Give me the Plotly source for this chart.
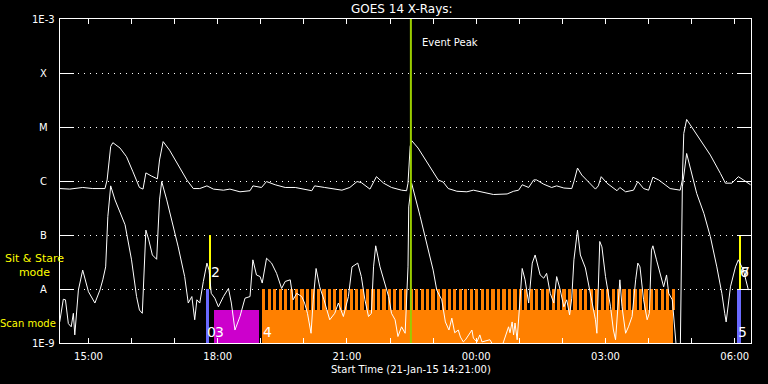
import pandas as pd
import plotly.graph_objects as go

# ---------------- data ----------------
# GOES 14 long channel (1-8 A), log10 flux
long_times = ["14:20","14:34","14:52","15:06","15:23","15:26","15:31","15:34","15:44","15:53",
              "16:02","16:11","16:16","16:20","16:28","16:36","16:39","16:44","16:53","17:05",
              "17:17","17:26","17:35","17:45","17:54","18:08","18:17","18:31","18:45","18:49",
              "19:01","19:08","19:20","19:34","19:48","20:11","20:15","20:29","20:53","21:04",
              "21:14","21:20","21:32","21:41","21:51","22:02","22:16","22:23","22:25","22:28",
              "22:30","22:39","22:51","23:07","23:14","23:21","23:33","23:47","23:56","00:08",
              "00:24","00:43","00:52","00:59","01:04","01:13","01:20","01:24","01:34","01:45",
              "01:52","02:02","02:13","02:16","02:21","02:27","02:36","02:46","02:50","02:54",
              "03:02","03:11","03:16","03:20","03:28","03:39","03:45","03:53","04:00","04:06",
              "04:14","04:23","04:30","04:44","04:47","04:49","04:53","04:58","05:12","05:26",
              "05:40","05:47","05:56","06:05","06:12","06:22"]
long_logflux = [-6.14,-6.15,-6.12,-6.14,-6.14,-5.98,-5.36,-5.29,-5.39,-5.55,
                -5.83,-6.12,-6.15,-5.85,-5.91,-5.96,-5.61,-5.27,-5.43,-5.70,
                -5.98,-6.14,-6.14,-6.09,-6.15,-6.17,-6.15,-6.20,-6.18,-6.09,
                -6.12,-6.01,-6.07,-6.12,-6.12,-6.18,-6.09,-6.12,-6.17,-6.12,
                -6.01,-6.03,-6.15,-5.92,-6.04,-6.12,-6.17,-6.18,-6.04,-5.36,
                -5.25,-5.39,-5.64,-5.98,-6.02,-6.14,-6.19,-6.20,-6.17,-6.21,
                -6.25,-6.24,-6.19,-6.17,-6.07,-6.12,-5.98,-5.98,-6.06,-6.12,
                -6.09,-6.13,-6.14,-6.01,-5.76,-5.89,-6.01,-6.15,-6.09,-5.92,
                -6.04,-6.14,-6.18,-6.12,-6.20,-6.17,-6.01,-6.14,-6.17,-5.93,
                -5.98,-6.07,-6.14,-6.17,-5.98,-5.12,-4.86,-4.96,-5.24,-5.52,
                -5.86,-6.04,-6.04,-5.92,-5.98,-6.07]

# GOES 14 short channel (0.5-4 A), log10 flux
short_times = ["14:20","14:25","14:28","14:32","14:36","14:39","14:41","14:43","14:46","14:52",
               "15:00","15:09","15:16","15:20","15:24","15:27","15:31","15:37","15:44","15:51",
               "16:00","16:07","16:11","16:15","16:20","16:24","16:29","16:35","16:39","16:42",
               "16:49","16:56","17:05","17:14","17:19","17:24","17:28","17:31","17:35","17:40",
               "17:45","17:48","17:51","17:56","18:01","18:08","18:15","18:19","18:24","18:31",
               "18:38","18:45","18:49","18:54","18:59","19:02","19:08","19:15","19:22","19:29",
               "19:34","19:41","19:45","19:50","19:57","20:01","20:05","20:10","20:13","20:17",
               "20:22","20:28","20:36","20:43","20:48","20:55","21:02","21:07","21:15","21:20",
               "21:25","21:30","21:34","21:37","21:40","21:46","21:51","21:58","22:02","22:07",
               "22:11","22:16","22:21","22:25","22:26","22:30","22:42","22:51","23:00","23:05",
               "23:12","23:17","23:20","23:22","23:26","23:30","23:35","23:38","23:42","23:45",
               "23:54","23:56","00:01","00:05","00:08","00:19","00:24","00:36","00:38","00:45",
               "00:47","00:50","00:52","00:54","00:57","01:00","01:04","01:08",
               "01:13","01:18","01:22","01:29","01:34","01:38","01:43","01:48","01:52","01:57",
               "02:02","02:06","02:10","02:13","02:16","02:21","02:25","02:32","02:39","02:46",
               "02:48","02:52","02:55","03:00","03:07","03:11","03:14","03:20","03:23","03:28",
               "03:32","03:37","03:42","03:45","03:48","03:53","03:58","04:01","04:04","04:06",
               "04:11","04:16","04:21","04:25","04:28","04:33","04:37","04:40","04:44","04:47",
               "04:53","04:58","05:07","05:17","05:26","05:35","05:42","05:46","05:48","05:54",
               "06:01","06:05","06:12","06:19"]
short_logflux = [-8.61,-8.19,-8.20,-8.64,-8.70,-8.45,-8.85,-8.45,-8.02,-7.65,
                 -8.05,-8.26,-8.02,-7.83,-7.59,-6.66,-6.09,-6.35,-6.60,-6.81,
                 -7.46,-8.14,-8.39,-8.45,-6.91,-7.09,-7.37,-7.45,-6.35,-6.01,
                 -6.35,-6.72,-7.22,-7.77,-8.26,-8.14,-8.57,-8.20,-8.26,-7.86,
                 -7.52,-7.65,-8.08,-8.17,-8.33,-8.14,-7.99,-8.26,-8.76,-8.51,
                 -8.17,-8.14,-7.46,-7.74,-7.77,-7.89,-7.43,-7.52,-7.71,-7.99,
                 -7.86,-7.83,-8.20,-8.08,-8.14,-8.26,-8.45,-8.82,-8.20,-7.62,
                 -7.96,-8.20,-8.57,-8.45,-8.26,-8.51,-8.14,-7.59,-7.52,-7.77,
                 -8.20,-8.51,-8.45,-7.59,-7.20,-7.59,-7.83,-8.14,-8.45,-8.57,
                 -8.88,-8.70,-8.82,-7.59,-6.48,-6.04,-6.66,-7.15,-7.65,-8.02,
                 -8.20,-8.61,-8.69,-8.76,-8.54,-8.81,-8.76,-8.89,-8.98,-8.94,
                 -8.76,-8.91,-8.98,-8.85,-8.98,-8.94,-9.05,-9.05,-8.98,-8.70,
                 -8.81,-8.61,-8.85,-8.63,-8.94,-8.39,-7.62,-7.83,
                 -8.26,-7.52,-7.37,-7.74,-7.80,-7.71,-8.08,-8.26,-7.77,-8.02,
                 -8.33,-8.20,-8.48,-8.17,-7.46,-6.91,-7.37,-7.61,-8.08,-8.57,
                 -8.82,-7.12,-7.22,-7.77,-8.33,-8.76,-8.94,-7.83,-8.33,-8.82,
                 -8.70,-8.51,-7.83,-7.52,-7.59,-8.20,-8.57,-8.45,-7.28,-7.20,
                 -7.46,-7.71,-7.96,-7.74,-8.08,-8.20,-8.76,-9.30,-9.30,-6.11,
                 -5.49,-5.74,-6.23,-6.60,-7.03,-7.59,-8.08,-8.45,-8.61,-7.96,
                 -7.59,-7.46,-7.65,-8.02]

# IRIS observation blocks
block_start  = ["17:43","17:48","17:55","19:02","06:03","06:06"]
block_end    = ["17:48","17:51","18:57","04:34","06:08","06:09"]
block_bottom = [-9.0, -8.0, -9.0, -9.0, -9.0, -8.0]
block_top    = [-8.0, -7.0, -8.39, -8.39, -8.0, -7.0]
block_kind   = ["scan", "sit", "raster", "raster2", "scan", "sit"]

# repeated raster (orange) cadence
raster_start = "19:02"
raster_end = "04:34"
raster_cadence_min = 7.6
raster_on_min = 4.5
raster_bottom, raster_top = -8.39, -8.0

# block labels
label_text = ["0", "2", "3", "4", "5", "6", "7"]
label_time = ["17:44", "17:49", "17:55", "19:02", "06:03", "06:06", "06:07"]
label_logflux = [-8.80, -7.69, -8.80, -8.80, -8.80, -7.69, -7.69]

event_peak = "22:29"

ytick_vals = [-9, -8, -7, -6, -5, -4, -3]
ytick_text = ["1E-9", "A", "B", "C", "M", "X", "1E-3"]

assert len(long_times) == len(long_logflux)
assert len(short_times) == len(short_logflux)

# ---------------- helpers ----------------
def ts(hm):
    h = int(hm[:2])
    day = "2015-01-21" if h >= 12 else "2015-01-22"
    return pd.Timestamp(f"{day} {hm}:00")

kind_color = {"scan": "#6a6aff", "sit": "#ffff00", "raster": "#cc00cc", "raster2": "#ff8000"}
FONT = "DejaVu Sans"

fig = go.Figure()

# observation blocks
for s, e, b, t, k in zip(block_start, block_end, block_bottom, block_top, block_kind):
    s_ts, e_ts = ts(s), ts(e)
    fig.add_trace(go.Bar(x=[s_ts], y=[t - b], base=[b], offset=0,
                         width=[(e_ts - s_ts).total_seconds() * 1000],
                         marker=dict(color=kind_color[k], line=dict(width=0)),
                         hoverinfo="skip", showlegend=False))

# raster repeats (upper teeth of orange block)
rs, re_ = ts(raster_start), ts(raster_end)
tooth_x = []
cur = rs
while cur < re_:
    tooth_x.append(cur)
    cur = cur + pd.Timedelta(minutes=raster_cadence_min)
fig.add_trace(go.Bar(x=tooth_x, y=[raster_top - raster_bottom] * len(tooth_x),
                     base=[raster_bottom] * len(tooth_x), offset=0,
                     width=[raster_on_min * 60000] * len(tooth_x),
                     marker=dict(color="#ff8000", line=dict(width=0)),
                     hoverinfo="skip", showlegend=False))

# GOES curves
fig.add_trace(go.Scatter(x=[ts(t) for t in long_times], y=long_logflux, mode="lines",
                         line=dict(color="white", width=1), hoverinfo="skip", showlegend=False))
fig.add_trace(go.Scatter(x=[ts(t) for t in short_times], y=short_logflux, mode="lines",
                         line=dict(color="white", width=1), hoverinfo="skip", showlegend=False))

# event peak line
fig.add_trace(go.Scatter(x=[ts(event_peak), ts(event_peak)], y=[-9, -3], mode="lines",
                         line=dict(color="#9acd00", width=2), hoverinfo="skip", showlegend=False))

annotations = []
# y tick labels (centered like the reference)
for v, txt in zip(ytick_vals, ytick_text):
    annotations.append(dict(text=txt, xref="paper", yref="y", x=-0.0232, y=v,
                            xanchor="center", yanchor="middle", showarrow=False,
                            font=dict(family=FONT, size=10, color="white")))
annotations.append(dict(text="Sit & Stare<br>mode", xref="paper", yref="y", x=-0.0376, y=-7.556,
                        xanchor="center", yanchor="middle", showarrow=False, align="center",
                        font=dict(family=FONT, size=11, color="#ffff00")))
annotations.append(dict(text="Scan mode", xref="paper", yref="y", x=-0.0459, y=-8.63,
                        xanchor="center", yanchor="middle", showarrow=False,
                        font=dict(family=FONT, size=10, color="#ffff00")))
annotations.append(dict(text="GOES 14 X-Rays:", xref="paper", yref="paper", x=0.4945, y=1.031,
                        xanchor="center", yanchor="middle", showarrow=False,
                        font=dict(family=FONT, size=12, color="white")))
annotations.append(dict(text="Start Time (21-Jan-15 14:21:00)", xref="paper", yref="paper",
                        x=0.508, y=-0.083, xanchor="center", yanchor="middle", showarrow=False,
                        font=dict(family=FONT, size=10, color="white")))
annotations.append(dict(text="Event Peak", xref="x", yref="y", x=ts(event_peak), y=-3.44,
                        xanchor="left", yanchor="middle", xshift=9, showarrow=False,
                        font=dict(family=FONT, size=10, color="white")))
for txt, t, v in zip(label_text, label_time, label_logflux):
    annotations.append(dict(text=txt, xref="x", yref="y", x=ts(t), y=v,
                            xanchor="left", yanchor="middle", showarrow=False, borderpad=0,
                            font=dict(family=FONT, size=14, color="white")))

fig.update_layout(
    width=768, height=384, autosize=False,
    margin=dict(l=60, r=17, t=19, b=41, pad=0),
    paper_bgcolor="black", plot_bgcolor="black",
    barmode="overlay", bargap=0,
    showlegend=False,
    annotations=annotations,
    xaxis=dict(type="date",
               range=[pd.Timestamp("2015-01-21 14:20:24"), pd.Timestamp("2015-01-22 06:22:36")],
               showline=True, linecolor="white", linewidth=1, mirror="ticks",
               ticks="inside", ticklen=5, tickcolor="white", tickwidth=1,
               tick0="2015-01-21 15:00:00", dtick=3 * 3600000, tickformat="%H:%M",
               tickfont=dict(family=FONT, size=10, color="white"), ticklabelstandoff=4,
               minor=dict(ticks="inside", ticklen=5, tickcolor="white", tickwidth=1,
                          dtick=3600000, tick0="2015-01-21 15:00:00", showgrid=False),
               showgrid=False, zeroline=False, fixedrange=True),
    yaxis=dict(range=[-9, -3], tickvals=ytick_vals, showticklabels=False,
               showline=True, linecolor="white", linewidth=1, mirror="ticks",
               ticks="inside", ticklen=14, tickcolor="white", tickwidth=1,
               showgrid=True, gridcolor="white", gridwidth=1, griddash="1px,5px",
               zeroline=False, fixedrange=True),
)

fig.write_html("out.html", config={"displayModeBar": False},
               post_script="document.body.style.margin='0';document.body.style.background='black';")
